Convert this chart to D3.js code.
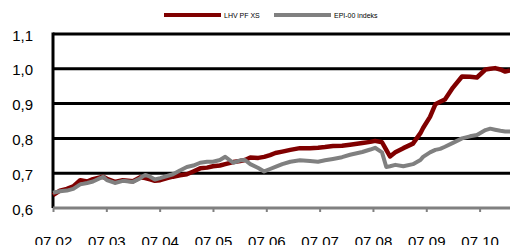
<!DOCTYPE html>
<html><head><meta charset="utf-8">
<script src="https://cdn.jsdelivr.net/npm/d3@7/dist/d3.min.js"></script>
<style>html,body{margin:0;padding:0;background:#fff;overflow:hidden}</style>
</head><body>
<svg id="c" width="510" height="245"></svg>
<script>
const monthLabels = ["07.02","07.03","07.04","07.05","07.06","07.07","07.08","07.09","07.10"];
const yTicks = [0.6,0.7,0.8,0.9,1.0,1.1];
const seriesNames = ["LHV PF XS","EPI-00 indeks"];
// time in months since first label
const t = [0,0.13,0.26,0.38,0.51,0.64,0.75,0.94,1.01,1.16,1.31,1.50,1.63,1.73,1.82,1.91,2.01,2.14,2.25,2.38,2.51,2.63,2.76,2.89,3.0,3.13,3.23,3.38,3.51,3.60,3.70,3.85,3.96,4.07,4.17,4.30,4.45,4.63,4.82,4.97,5.10,5.25,5.42,5.57,5.80,5.95,6.04,6.17,6.25,6.32,6.42,6.57,6.75,6.89,6.94,7.07,7.17,7.26,7.35,7.50,7.67,7.82,7.95,8.11,8.20,8.29,8.39,8.48,8.57];
const lhv = [0.637,0.650,0.655,0.662,0.680,0.676,0.683,0.690,0.684,0.675,0.680,0.677,0.688,0.686,0.682,0.678,0.680,0.686,0.690,0.694,0.697,0.705,0.714,0.716,0.720,0.722,0.726,0.732,0.735,0.738,0.745,0.744,0.747,0.752,0.758,0.762,0.767,0.772,0.772,0.773,0.775,0.778,0.779,0.782,0.787,0.790,0.793,0.789,0.767,0.748,0.760,0.772,0.785,0.815,0.830,0.862,0.898,0.905,0.912,0.946,0.978,0.977,0.975,0.998,1.000,1.002,0.998,0.992,0.995];
const epi = [0.644,0.648,0.650,0.655,0.668,0.672,0.676,0.690,0.680,0.672,0.678,0.675,0.685,0.695,0.690,0.682,0.686,0.692,0.697,0.708,0.718,0.722,0.730,0.733,0.733,0.738,0.747,0.730,0.737,0.738,0.726,0.715,0.705,0.712,0.718,0.726,0.733,0.737,0.735,0.733,0.737,0.741,0.746,0.753,0.761,0.768,0.773,0.760,0.718,0.720,0.724,0.720,0.726,0.738,0.747,0.760,0.767,0.770,0.776,0.787,0.800,0.806,0.810,0.824,0.828,0.825,0.822,0.820,0.820];

const svg = d3.select("#c");
const x = d3.scaleLinear().domain([0, 8.57]).range([53, 510]);
const y = d3.scaleLinear().domain([0.6, 1.1]).range([208, 34]);
const font = "'Liberation Sans', Arial, sans-serif";

// gridlines
svg.append("g").selectAll("line").data(yTicks.filter(v => v > 0.6)).join("line")
  .attr("x1", 53).attr("x2", 510).attr("y1", d => y(d)).attr("y2", d => y(d))
  .attr("stroke", "#000").attr("stroke-width", 3);

// y axis line
svg.append("line").attr("x1", 53).attr("x2", 53).attr("y1", y(1.1) - 1.5).attr("y2", y(0.6))
  .attr("stroke", "#000").attr("stroke-width", 3);

// x axis
const xAxis = d3.axisBottom(x).tickValues(d3.range(monthLabels.length)).tickFormat(i => monthLabels[i]).tickSize(4).tickPadding(24);
const gx = svg.append("g").attr("transform", `translate(0,${y(0.6)})`).call(xAxis);
gx.select(".domain").attr("stroke", "#808080").attr("stroke-width", 3).attr("d", `M53,0H510`);
gx.selectAll(".tick line").attr("stroke", "#808080").attr("stroke-width", 2);
gx.selectAll(".tick text").attr("font-family", font).attr("font-size", 15).attr("fill", "#000").attr("dy", "0.71em");

// y labels
const yAxis = d3.axisLeft(y).tickValues(yTicks).tickFormat(d => d3.format(".1f")(d).replace(".", ",")).tickSize(0).tickPadding(20);
const gy = svg.append("g").attr("transform", "translate(53,0)").call(yAxis);
gy.select(".domain").remove();
gy.selectAll(".tick text").attr("font-family", font).attr("font-size", 15).attr("fill", "#000").attr("dy", "0.4em");

// lines
const line = vals => d3.line().x((d, i) => x(t[i])).y(d => y(d))(vals);
svg.append("path").attr("d", line(lhv)).attr("fill", "none").attr("stroke", "#800000").attr("stroke-width", 4.5).attr("stroke-linejoin", "round");
svg.append("path").attr("d", line(epi)).attr("fill", "none").attr("stroke", "#808080").attr("stroke-width", 4).attr("stroke-linejoin", "round");

// legend
const legend = [{name: seriesNames[0], color: "#800000", x: 164}, {name: seriesNames[1], color: "#808080", x: 274}];
const lg = svg.append("g");
legend.forEach(l => {
  lg.append("line").attr("x1", l.x).attr("x2", l.x + 57).attr("y1", 15).attr("y2", 15).attr("stroke", l.color).attr("stroke-width", 4);
  lg.append("text").attr("x", l.x + 60).attr("y", 18).text(l.name).attr("font-family", font).attr("font-size", 7).attr("fill", "#000");
});
</script>
</body></html>
